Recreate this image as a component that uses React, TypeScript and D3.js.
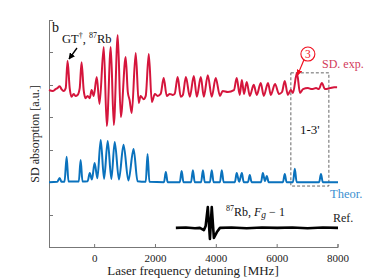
import React from 'react';
import * as d3 from 'd3';

// x axis ticks (MHz)
const freqTicks = [0, 2000, 4000, 6000, 8000];
const absTicks = [0, 1, 2, 3, 4, 5, 6, 7];

// SD experimental trace
const expFreq = [-1500, -1380, -1280, -1220, -1150, -1090, -1020, -950, -890, -820, -760, -690, -630, -560, -490, -430, -360, -300, -230, -160, -100, -30, 70, 160, 300, 400, 530, 630, 760, 860, 1020, 1090, 1150, 1220, 1350, 1450, 1510, 1610, 1680, 1780, 1880, 1980, 2070, 2170, 2270, 2370, 2470, 2570, 2630, 2730, 2830, 2900, 3000, 3130, 3260, 3360, 3490, 3590, 3720, 3850, 3980, 4120, 4210, 4380, 4580, 4670, 4770, 4840, 4910, 5000, 5100, 5230, 5330, 5460, 5560, 5700, 5790, 5930, 6060, 6160, 6250, 6350, 6450, 6520, 6650, 6750, 6850, 7010, 7140, 7280, 7370, 7470, 7570, 7740, 7870, 7970];
const expVal = [4.84, 4.81, 4.87, 4.9, 4.96, 4.87, 4.81, 4.9, 5.74, 4.9, 4.63, 4.72, 4.66, 4.69, 4.9, 5.7, 4.84, 4.59, 4.66, 4.59, 4.84, 4.66, 5.24, 4.41, 6.17, 3.73, 6.17, 3.76, 6.54, 4.01, 5.86, 4.78, 4.53, 4.13, 5.98, 4.44, 4.66, 4.56, 4.66, 5.95, 4.47, 4.72, 4.66, 4.72, 5.21, 4.66, 4.72, 4.69, 4.72, 5.24, 4.63, 4.69, 5.24, 4.63, 5.27, 4.63, 5.24, 4.63, 5.3, 4.63, 5.21, 4.66, 4.81, 4.78, 4.84, 5.21, 4.69, 5.15, 4.72, 5.09, 4.66, 5.0, 4.69, 5.06, 4.66, 5.06, 4.69, 5.03, 4.72, 4.78, 5.12, 4.69, 4.84, 4.75, 5.37, 4.75, 4.87, 4.9, 4.87, 4.9, 4.87, 5.06, 4.87, 4.9, 4.93, 4.93];

// theoretical trace
const theorFreq = [-1500, -1230, -1150, -1090, -990, -920, -860, -520, -460, -400, -230, -160, -90, 0, 90, 200, 310, 430, 550, 660, 800, 950, 1110, 1280, 1410, 1680, 1740, 1800, 2280, 2340, 2400, 2800, 2860, 2920, 3170, 3230, 3290, 3500, 3560, 3620, 3790, 3850, 3910, 4120, 4180, 4240, 4610, 4670, 4750, 4840, 4900, 5040, 5100, 5160, 5470, 5530, 5600, 5660, 5720, 6190, 6250, 6310, 6520, 6580, 6640, 7380, 7440, 7500, 8000];
const theorVal = [2.0, 2.01, 2.13, 2.01, 2.01, 2.78, 2.02, 2.02, 2.68, 2.02, 2.03, 2.28, 2.08, 2.59, 2.12, 3.3, 2.1, 3.27, 2.1, 3.24, 2.08, 3.15, 2.05, 3.02, 2.03, 2.01, 2.87, 2.01, 2.0, 2.31, 2.0, 2.0, 2.34, 2.0, 2.0, 2.37, 2.0, 2.0, 2.37, 2.0, 2.0, 2.37, 2.0, 2.0, 2.37, 2.0, 2.0, 2.28, 2.01, 2.28, 2.0, 2.0, 2.22, 2.0, 2.0, 2.28, 2.03, 2.19, 2.0, 2.0, 2.25, 2.0, 2.0, 2.41, 2.0, 2.0, 2.25, 2.0, 2.0];

// reference cell trace
const refFreq = [2670, 3000, 3300, 3460, 3590, 3650, 3720, 3790, 3850, 3920, 4020, 4120, 4500, 5000, 5500, 6000, 6500, 7000, 7500, 8000];
const refVal = [0.59, 0.6, 0.58, 0.59, 0.52, 0.65, 1.23, 0.25, 1.23, 0.28, 0.46, 0.59, 0.6, 0.58, 0.6, 0.59, 0.6, 0.58, 0.6, 0.59];

const serif = '"Liberation Serif", "DejaVu Serif", serif';
const red = '#d5153c';
const blue = '#0a72bd';

export default function App() {
  const width = 374;
  const height = 280;

  const x = d3.scaleLinear().domain([-1500, 8000]).range([49, 338]);
  const y = d3.scaleLinear().domain([0, 7]).range([247, 20]);

  const line = (fs: number[], vs: number[], curve: any) =>
    d3.line<number>()
      .x((d, i) => x(fs[i]))
      .y((d) => y(d))
      .curve(curve)(vs) || '';

  const boxX0 = x(6450), boxX1 = x(7700);
  const boxY0 = y(5.37), boxY1 = y(1.88);
  const cx = x(7010), cy = y(5.95);

  return (
    <svg width={width} height={height} style={{ position: 'absolute', left: 0, top: 0, background: '#fff' }}
         fontFamily={serif}>
      <defs>
        <marker id="ahBlack" viewBox="0 0 10 10" refX="9" refY="5" markerWidth="5" markerHeight="5" orient="auto">
          <path d="M0,0 L10,5 L0,10 z" fill="#000" />
        </marker>
        <marker id="ahRed" viewBox="0 0 10 10" refX="9" refY="5" markerWidth="5" markerHeight="5" orient="auto">
          <path d="M0,0 L10,5 L0,10 z" fill="#f01020" />
        </marker>
      </defs>

      {/* axes */}
      <g stroke="#777" strokeWidth={1} fill="none">
        <line x1={49.5} x2={49.5} y1={20} y2={247.5} />
        <line x1={49} x2={338} y1={247.5} y2={247.5} />
        {absTicks.map((t) => (
          <line key={'yt' + t} x1={49.5} x2={53} y1={Math.round(y(t)) + 0.5} y2={Math.round(y(t)) + 0.5} />
        ))}
        <line x1={338} x2={338} y1={247.5} y2={244} />
        {freqTicks.map((t) => (
          <line key={'xt' + t} x1={x(t)} x2={x(t)} y1={247.5} y2={244} />
        ))}
      </g>
      {freqTicks.map((t) => (
        <text key={'xl' + t} x={x(t)} y={262} fontSize={11} textAnchor="middle" fill="#222">{t}</text>
      ))}
      <text x={193} y={275} fontSize={13} textAnchor="middle" fill="#222">Laser frequency detuning [MHz]</text>
      <text transform="translate(39,134) rotate(-90)" fontSize={12} textAnchor="middle" fill="#222">SD absorption [a.u.]</text>

      {/* dashed box */}
      <rect x={boxX0} y={boxY0} width={boxX1 - boxX0} height={boxY1 - boxY0}
            fill="none" stroke="#555" strokeWidth={0.9} strokeDasharray="3,2" />
      <text x={(boxX0 + boxX1) / 2} y={134} fontSize={13} textAnchor="middle" fill="#111">1-3'</text>

      {/* traces */}
      <path d={line(refFreq, refVal, d3.curveLinear)} fill="none" stroke="#000" strokeWidth={2.6} strokeLinejoin="round" />
      <path d={line(theorFreq, theorVal, d3.curveMonotoneX)} fill="none" stroke={blue} strokeWidth={2} strokeLinejoin="round" />
      <path d={line(expFreq, expVal, d3.curveMonotoneX)} fill="none" stroke={red} strokeWidth={2} strokeLinejoin="round" />

      {/* annotations */}
      <text x={52} y={32} fontSize={14} fill="#111">b</text>
      <text x={62} y={43} fontSize={12.5} fill="#111">
        GT<tspan dy={-5} fontSize={8}>†</tspan><tspan dy={5}>, </tspan><tspan dy={-5} fontSize={8}>87</tspan><tspan dy={5}>Rb</tspan>
      </text>
      <line x1={77} y1={48} x2={69} y2={59} stroke="#000" strokeWidth={1.3} markerEnd="url(#ahBlack)" />

      <circle cx={cx} cy={cy} r={7} fill="none" stroke="#f01020" strokeWidth={1.1} />
      <text x={cx} y={cy + 4} fontSize={11.5} textAnchor="middle" fill="#f01020">3</text>
      <line x1={cx - 4} y1={cy + 6} x2={x(6670)} y2={y(5.3)} stroke="#f01020" strokeWidth={1.2} markerEnd="url(#ahRed)" />

      <text x={322} y={68} fontSize={12} fill="#d23a5a">SD. exp.</text>
      <text x={330} y={198} fontSize={12.5} fill="#3b8fd0">Theor.</text>
      <text x={333} y={222} fontSize={12} fill="#222">Ref.</text>
      <text x={226} y={216} fontSize={12} fill="#111">
        <tspan dy={-5} fontSize={8}>87</tspan><tspan dy={5}>Rb, </tspan><tspan fontStyle="italic">F</tspan><tspan fontStyle="italic" dy={2} fontSize={9.5}>g</tspan><tspan dy={-2}> − 1</tspan>
      </text>
    </svg>
  );
}
